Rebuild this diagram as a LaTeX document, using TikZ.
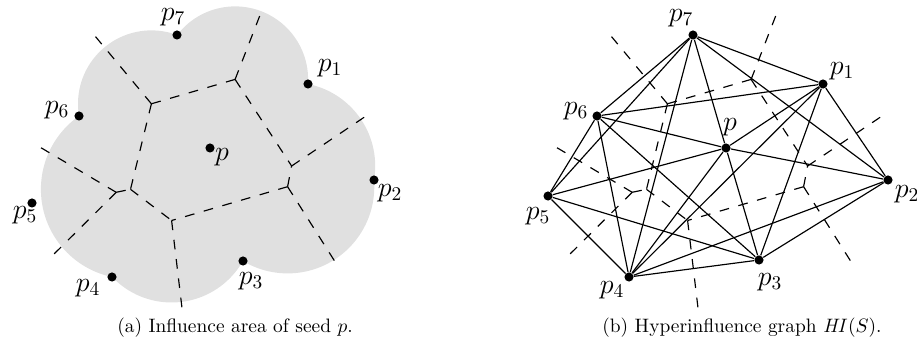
\documentclass[tikz,border=0pt]{standalone}
\usetikzlibrary{calc}

% Voronoi vertices of the seeds and the free ends of the unbounded edges
\newcommand\vorvertices{%
  \coordinate (vA) at (151.4,103.8);
  \coordinate (vB) at (235.1,79.4);
  \coordinate (vC) at (291.6,166.0);
  \coordinate (vD) at (287.6,186.7);
  \coordinate (vE) at (171.6,220.5);
  \coordinate (vF) at (130.5,189.3);
  \coordinate (vG) at (116.2,192.3);
  \coordinate (oA) at (90,30);
  \coordinate (oB) at (262,10);
  \coordinate (oC) at (372,112);
  \coordinate (oD) at (339,268);
  \coordinate (oE) at (182,308);
  \coordinate (oG1) at (33,143);
  \coordinate (oG2) at (48,260);
}
\newcommand\voredges{%
  \foreach \s/\t in {vA/oA, vA/vB, vA/vF, vB/oB, vB/vC, vC/oC, vD/vC, vD/oD,
                     vD/vE, vE/oE, vF/vE, vG/vF, vG/oG1, vG/oG2}
    \draw[vor] (\s) -- (\t);
}

\begin{document}
\begin{tikzpicture}[x=0.515pt, y=-0.515pt,
  site/.style={circle, fill=black, inner sep=0pt, minimum size=4.7pt},
  vor/.style={line width=0.6pt, dash pattern=on 5pt off 5pt},
  link/.style={line width=0.6pt},
  plabel/.style={font=\Large, inner sep=0pt},
  area/.style={fill=black!12}]
  \useasboundingbox (0,0) rectangle (917,352);

  % (a) influence area
  \begin{scope}[name prefix=a-]
    \vorvertices
    \foreach \v/\r in {vA/73.4, vB/73.0, vC/83.6, vD/86.7, vE/82.0, vF/89.6}
      \fill[area] (\v) circle (\r);
    \voredges
    \node[site] (p)  at (210,148) {};
    \node[site] (p1) at (308,84) {};
    \node[site] (p2) at (374,180) {};
    \node[site] (p3) at (243,261) {};
    \node[site] (p4) at (112,277) {};
    \node[site] (p5) at (32,203) {};
    \node[site] (p6) at (79,116) {};
    \node[site] (p7) at (177,35) {};
    \node[plabel] (l)  at ($(p)+(12,9)$)    {$p$};
    \node[plabel] (l1) at ($(p1)+(22,-16)$) {$p_1$};
    \node[plabel] (l2) at ($(p2)+(16,13)$)  {$p_2$};
    \node[plabel] (l3) at ($(p3)+(8,20)$)   {$p_3$};
    \node[plabel] (l4) at ($(p4)+(-24,11)$) {$p_4$};
    \node[plabel] (l5) at ($(p5)+(-7,12)$)  {$p_5$};
    \node[plabel] (l6) at ($(p6)+(-22,-6)$) {$p_6$};
    \node[plabel] (l7) at ($(p7)+(-4,-18)$) {$p_7$};
    \node (cap) at (235,328) {(a) Influence area of seed $p$.};
  \end{scope}

  % (b) hyperinfluence graph
  \begin{scope}[shift={(516,0)}, name prefix=b-]
    \vorvertices
    \voredges
    \node[site] (p)  at (210,148) {};
    \node[site] (p1) at (307,84) {};
    \node[site] (p2) at (372,180) {};
    \node[site] (p3) at (243,260) {};
    \node[site] (p4) at (113,277) {};
    \node[site] (p5) at (32,196) {};
    \node[site] (p6) at (81,116) {};
    \node[site] (p7) at (177,35) {};
    \foreach \s/\t in {p7/p1, p7/p6, p7/p2, p7/p, p7/p4, p7/p5, p1/p6, p1/p,
                       p1/p2, p1/p3, p1/p4, p6/p, p6/p5, p6/p4, p6/p3, p/p5,
                       p/p4, p/p3, p/p2, p5/p3, p5/p4, p4/p3, p4/p2, p3/p2}
      \draw[link] (\s) -- (\t);
    \node[plabel] (l)  at ($(p)+(4,-21)$)   {$p$};
    \node[plabel] (l1) at ($(p1)+(19,-13)$) {$p_1$};
    \node[plabel] (l2) at ($(p2)+(19,14)$)  {$p_2$};
    \node[plabel] (l3) at ($(p3)+(11,22)$)  {$p_3$};
    \node[plabel] (l4) at ($(p4)+(-17,13)$) {$p_4$};
    \node[plabel] (l5) at ($(p5)+(-10,20)$) {$p_5$};
    \node[plabel] (l6) at ($(p6)+(-21,-5)$) {$p_6$};
    \node[plabel] (l7) at ($(p7)+(-12,-17)$) {$p_7$};
    \node (cap) at (226,328) {(b) Hyperinfluence graph $\mathit{HI}(S)$.};
  \end{scope}
\end{tikzpicture}
\end{document}
